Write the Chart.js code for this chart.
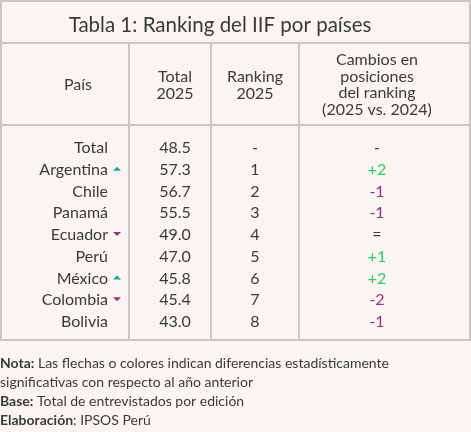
<!DOCTYPE html>
<html>
<head>
<meta charset="utf-8">
<script src="https://cdn.jsdelivr.net/npm/chart.js@4/dist/chart.umd.min.js"></script>
<style>
  html, body { margin: 0; padding: 0; background: #f9f6f2; }
  #wrap { width: 471px; height: 432px; position: relative; }
</style>
</head>
<body>
<div id="wrap"><canvas id="tabla"></canvas></div>
<script>
const countries = ["Total", "Argentina", "Chile", "Panamá", "Ecuador", "Perú", "México", "Colombia", "Bolivia"]
const totals = ["48.5", "57.3", "56.7", "55.5", "49.0", "47.0", "45.8", "45.4", "43.0"]
const ranking = ["-", "1", "2", "3", "4", "5", "6", "7", "8"]
const changes = ["-", "+2", "-1", "-1", "=", "+1", "+2", "-2", "-1"]
// arrow: 1 up, -1 down, 0 none
const arrows = [0, 1, 0, 0, -1, 0, 1, -1, 0]

const FONT = "Lato, 'Open Sans', sans-serif"
const INK = "#3a3a3a"
const GREEN = "#35c46a"
const PURPLE = "#9b2f7e"
const TEAL = "#17a49a"
const LINE = "#c9c7c4"

function changeColor(c) {
    if (c.startsWith("+")) return GREEN
    if (c.startsWith("-") && c.length > 1) return PURPLE
    return INK
}

function tablePlugin() {
    return {
        id: "tabla",
        afterDraw: (chart) => {
            const { ctx } = chart
            const x = chart.scales.x
            const y = chart.scales.y
            const px = v => x.getPixelForValue(v)

            ctx.save()
            // grid
            ctx.strokeStyle = LINE
            ctx.lineWidth = 2
            ctx.strokeRect(1, 1, 469, 339)
            ctx.beginPath()
            ctx.moveTo(1, 43); ctx.lineTo(470, 43)
            ctx.moveTo(1, 125); ctx.lineTo(470, 125)
            ;[129, 211, 299].forEach(v => {
                ctx.moveTo(px(v), 43); ctx.lineTo(px(v), 340)
            })
            ctx.stroke()

            ctx.fillStyle = INK
            ctx.textBaseline = "middle"
            ctx.textAlign = "center"
            ctx.font = "20.5px " + FONT
            ctx.fillText("Tabla 1: Ranking del IIF por países", 220, 25)

            ctx.font = "16px " + FONT
            ctx.fillText("País", 78, 85)
            ctx.fillText("Total", 175, 77)
            ctx.fillText("2025", 175, 94)
            ctx.fillText("Ranking", 255, 77)
            ctx.fillText("2025", 255, 94)
            ;["Cambios en", "posiciones", "del ranking", "(2025 vs. 2024)"].forEach((t, i) => {
                ctx.fillText(t, 377, 60 + i * 16.5)
            })

            countries.forEach((c, i) => {
                const yy = y.getPixelForValue(i)
                ctx.fillStyle = INK
                ctx.textAlign = "right"
                ctx.fillText(c, px(108), yy)
                ctx.textAlign = "center"
                ctx.fillText(totals[i], px(175), yy)
                ctx.fillText(ranking[i], px(255), yy)
                ctx.fillStyle = changeColor(changes[i])
                ctx.fillText(changes[i], px(377), yy)
                if (arrows[i] !== 0) {
                    const ax = px(117)
                    ctx.fillStyle = arrows[i] > 0 ? TEAL : PURPLE
                    ctx.beginPath()
                    if (arrows[i] > 0) {
                        ctx.moveTo(ax - 4, yy + 1); ctx.lineTo(ax + 4, yy + 1); ctx.lineTo(ax, yy - 3)
                    } else {
                        ctx.moveTo(ax - 4, yy - 3); ctx.lineTo(ax + 4, yy - 3); ctx.lineTo(ax, yy + 1)
                    }
                    ctx.closePath()
                    ctx.fill()
                }
            })

            // footer notes
            ctx.fillStyle = INK
            ctx.textAlign = "left"
            const notes = [
                ["Nota:", " Las flechas o colores indican diferencias estadísticamente"],
                ["", "significativas con respecto al año anterior"],
                ["Base:", " Total de entrevistados por edición"],
                ["Elaboración", ": IPSOS Perú"]
            ]
            notes.forEach((n, i) => {
                const yy = 363 + i * 19
                ctx.font = "bold 14px " + FONT
                ctx.fillText(n[0], 0, yy)
                const w = ctx.measureText(n[0]).width
                ctx.font = "14px " + FONT
                ctx.fillText(n[1], w, yy)
            })
            ctx.restore()
        }
    }
}

new Chart(document.getElementById("tabla"), {
    type: "scatter",
    data: { labels: countries, datasets: [{ data: [] }] },
    options: {
        responsive: true,
        maintainAspectRatio: false,
        animation: false,
        layout: { padding: { top: 137, bottom: 99, left: 0, right: 0 } },
        plugins: { legend: { display: false }, tooltip: { enabled: false } },
        scales: {
            x: { type: "linear", min: 0, max: 471, display: false },
            y: { type: "category", labels: countries, offset: true, display: false }
        }
    },
    plugins: [tablePlugin()]
})
</script>
</body>
</html>
